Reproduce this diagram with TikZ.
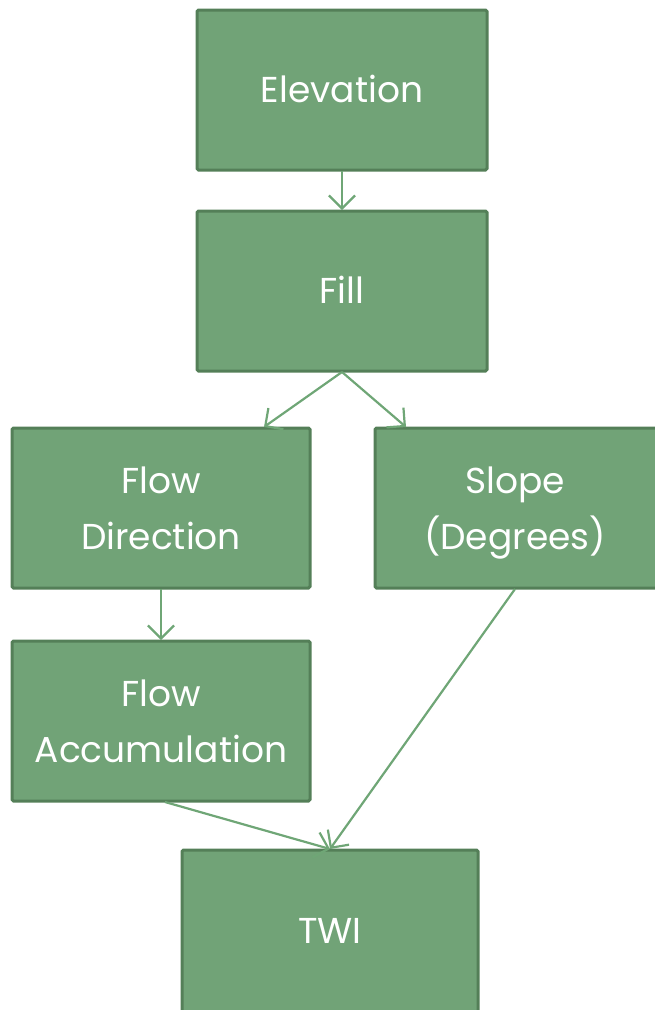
\documentclass[tikz,border=0pt]{standalone}
\usepackage{fontspec}
\setmainfont{Poppins}
\usetikzlibrary{arrows.meta}
\definecolor{boxfill}{RGB}{113,163,119}
\definecolor{boxline}{RGB}{84,127,88}
\definecolor{arrowc}{RGB}{111,166,118}
\begin{document}
\begin{tikzpicture}[x=1pt,y=-1pt,
  box/.style={draw=boxline, fill=boxfill, line width=3pt, rounded corners=1.5pt},
  lbl/.style={text=white, font=\fontsize{36}{56}\selectfont, align=center, inner sep=0pt},
  conn/.style={draw=arrowc, line width=2.2pt, -{Straight Barb[length=13pt,width=26pt,line width=2.2pt]}}]
\useasboundingbox (0,0) rectangle (655,1010);
\begin{scope}
\clip (0,0) rectangle (655,1010);
\draw[box] (197,10) rectangle (487,170);
\draw[box] (197,211) rectangle (487,371);
\draw[box] (12,428) rectangle (310,588);
\draw[box] (375,428) rectangle (665,588);
\draw[box] (12,641) rectangle (310,801);
\draw[box] (182,850) rectangle (478,1016);
\end{scope}
\node[lbl] (elev) at (342,91) {\strut Elevation};
\node[lbl] (fill) at (342,292) {\strut Fill};
\node[lbl] (fdir) at (161,510) {\strut Flow\\\strut Direction};
\node[lbl] (slope) at (515,510) {\strut Slope\\\strut (Degrees)};
\node[lbl] (facc) at (161,723) {\strut Flow\\\strut Accumulation};
\node[lbl] (twi) at (330,932) {\strut TWI};
\coordinate (elevB) at (342,171);
\coordinate (fillT) at (342,210);
\coordinate (fillB) at (342,372);
\coordinate (fdirT) at (264,427);
\coordinate (slopeT) at (406,427);
\coordinate (fdirB) at (161,589);
\coordinate (faccT) at (161,640);
\coordinate (faccB) at (165,802);
\coordinate (slopeB) at (515,589);
\coordinate (twiT) at (330,849);
\draw[conn] (elevB) -- (fillT);
\draw[conn] (fillB) -- (fdirT);
\draw[conn] (fillB) -- (slopeT);
\draw[conn] (fdirB) -- (faccT);
\draw[conn] (faccB) -- (twiT);
\draw[conn] (slopeB) -- (twiT);
\end{tikzpicture}
\end{document}
